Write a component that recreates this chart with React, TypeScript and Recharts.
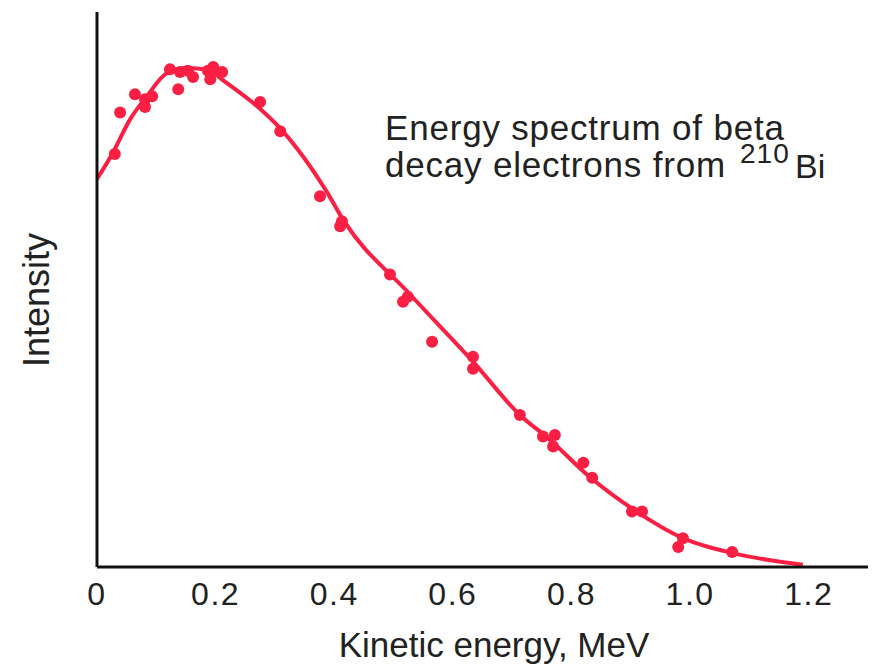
import React from 'react';
import { ComposedChart, Line, Scatter, XAxis, YAxis } from 'recharts';

const xTicks = [0, 0.2, 0.4, 0.6, 0.8, 1.0, 1.2];

const pointX = [0.030, 0.039, 0.064, 0.081, 0.081, 0.093, 0.123, 0.137, 0.140, 0.153, 0.162, 0.187, 0.191, 0.196, 0.211, 0.275, 0.309, 0.376, 0.413, 0.410, 0.494, 0.524, 0.516, 0.565, 0.634, 0.634, 0.713, 0.752, 0.772, 0.769, 0.820, 0.835, 0.902, 0.919, 0.988, 0.980, 1.071];
const pointY = [74.4, 81.9, 85.2, 82.9, 84.3, 84.8, 89.7, 86.1, 89.2, 89.4, 88.3, 89.4, 87.9, 90.1, 89.2, 83.8, 78.5, 66.8, 62.3, 61.4, 52.7, 48.7, 47.8, 40.6, 37.9, 35.7, 27.4, 23.5, 23.8, 21.7, 18.8, 16.1, 10.0, 10.0, 5.2, 3.6, 2.7];

const curveX = [0, 0.027, 0.056, 0.084, 0.118, 0.15, 0.19, 0.21, 0.27, 0.31, 0.388, 0.415, 0.528, 0.634, 0.713, 0.764, 0.831, 0.911, 0.988, 1.072, 1.13, 1.19];
const curveY = [69.9, 74.7, 80.7, 84.8, 89.0, 89.9, 89.5, 87.9, 83.0, 78.9, 67.5, 62.6, 49.1, 37.0, 27.4, 22.9, 16.2, 9.9, 5.2, 2.5, 1.3, 0.4];

const xLabel = 'Kinetic energy, MeV';
const yLabel = 'Intensity';
const noteLine1 = 'Energy spectrum of beta';
const noteLine2 = 'decay electrons from';
const noteSup = '210';
const noteElem = 'Bi';

const points = pointX.map((x, i) => ({ x, y: pointY[i] }));
const curve = curveX.map((x, i) => ({ x, y: curveY[i] }));

const RED = '#fb1f44';
const FONT = '"Liberation Sans", Arial, Helvetica, sans-serif';
const TEXT = '#222';

const XTick = (props: any) => {
  const { x, y, payload } = props;
  const v = payload.value;
  const label = v === 0 ? '0' : v.toFixed(1);
  return (
    <text x={x} y={y + 30} textAnchor="middle" fontSize={32} letterSpacing={1.5} fontFamily={FONT} fill={TEXT}>
      {label}
    </text>
  );
};

const Dot = (props: any) => {
  const { cx, cy } = props;
  return <circle cx={cx} cy={cy} r={6} fill={RED} />;
};

export default function App() {
  return (
    <div style={{ position: 'absolute', left: 0, top: 0, width: 872, height: 665, background: '#fff' }}>
      <ComposedChart width={872} height={665} margin={{ top: 12, right: 4, bottom: 0, left: 0 }}>
        <XAxis
          type="number"
          dataKey="x"
          domain={[0, 1.3]}
          ticks={xTicks}
          tick={<XTick />}
          tickLine={false}
          axisLine={{ stroke: '#111', strokeWidth: 3 }}
          height={98}
          allowDataOverflow
        />
        <YAxis
          type="number"
          dataKey="y"
          domain={[0, 100]}
          tick={false}
          tickLine={false}
          axisLine={{ stroke: '#111', strokeWidth: 3 }}
          width={97}
          allowDataOverflow
        />
        <Line
          data={curve}
          dataKey="y"
          type="monotone"
          stroke={RED}
          strokeWidth={4}
          dot={false}
          activeDot={false}
          isAnimationActive={false}
        />
        <Scatter data={points} dataKey="y" fill={RED} shape={<Dot />} isAnimationActive={false} />
      </ComposedChart>
      <svg
        width={872}
        height={665}
        style={{ position: 'absolute', left: 0, top: 0, pointerEvents: 'none' }}
        fontFamily={FONT}
        fill={TEXT}
      >
        <text x={494} y={657} textAnchor="middle" fontSize={35}>{xLabel}</text>
        <text x={49} y={300} textAnchor="middle" fontSize={36} transform="rotate(-90 49 300)">{yLabel}</text>
        <text x={385} y={140} fontSize={35} letterSpacing={0.8}>{noteLine1}</text>
        <text x={385} y={177} fontSize={35} letterSpacing={0.8}>{noteLine2}</text>
        <text x={740} y={163} fontSize={28} letterSpacing={1}>{noteSup}</text>
        <text x={795} y={178} fontSize={34}>{noteElem}</text>
      </svg>
    </div>
  );
}
